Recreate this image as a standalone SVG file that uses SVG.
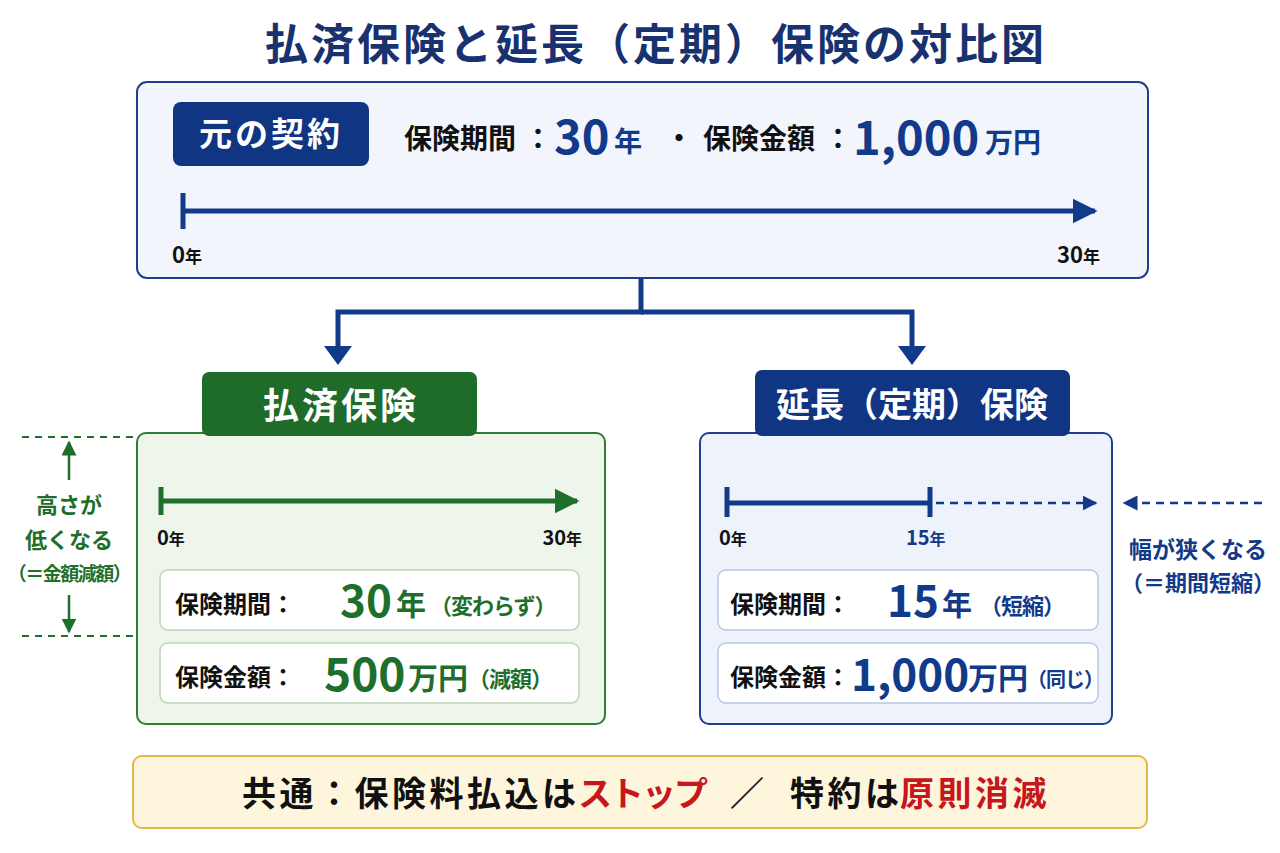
<svg xmlns="http://www.w3.org/2000/svg" width="1280" height="853" viewBox="0 0 1280 853">
<defs>
<style>
text{font-family:"Noto Sans CJK JP","Noto Sans",sans-serif;font-weight:700}
.blk{fill:#111}
.nv{fill:#123a8a}
.gr{fill:#1e6f2c}
.red{fill:#c8161d}
.wh{fill:#fff}
.navyline{stroke:#123a8a;stroke-width:5;fill:none}
.greenline{stroke:#1e6f2c;stroke-width:5;fill:none}
</style>
<marker id="ahN" viewBox="0 0 10 10" refX="9" refY="5" markerWidth="5" markerHeight="5.5" orient="auto" markerUnits="strokeWidth"><path d="M0,0L10,5L0,10Z" fill="#123a8a"/></marker>
<marker id="ahG" viewBox="0 0 10 10" refX="9" refY="5" markerWidth="5" markerHeight="5.5" orient="auto" markerUnits="strokeWidth"><path d="M0,0L10,5L0,10Z" fill="#1e6f2c"/></marker>
<marker id="ahNs" viewBox="0 0 10 10" refX="9" refY="5" markerWidth="6" markerHeight="6" orient="auto" markerUnits="strokeWidth"><path d="M0,0L10,5L0,10Z" fill="#123a8a"/></marker>
<marker id="ahGs" viewBox="0 0 10 10" refX="9" refY="5" markerWidth="6" markerHeight="6" orient="auto" markerUnits="strokeWidth"><path d="M0,0L10,5L0,10Z" fill="#1e6f2c"/></marker>
</defs>
<rect width="1280" height="853" fill="#ffffff"/>

<text x="656" y="60" text-anchor="middle" font-size="43" letter-spacing="3" fill="#17326f">払済保険と延長（定期）保険の対比図</text>

<g id="original">
<rect x="137" y="82" width="1011" height="196" rx="10" fill="#f2f5fc" stroke="#1e3f8f" stroke-width="2"/>
<rect x="173" y="102" width="196" height="64" rx="8" fill="#0f3583"/>
<text x="271" y="146" text-anchor="middle" font-size="33" letter-spacing="3" class="wh">元の契約</text>
<text x="404" y="149" font-size="28" class="blk">保険期間</text>
<text x="524" y="149" font-size="28" class="blk">：</text>
<text x="554" y="154" font-size="47" class="nv">30</text>
<text x="614" y="152" font-size="28" class="nv">年</text>
<text x="665" y="149" font-size="28" class="blk">・</text>
<text x="703" y="149" font-size="28" class="blk">保険金額</text>
<text x="824" y="149" font-size="28" class="blk">：</text>
<text x="853" y="155" font-size="47" class="nv">1,000</text>
<text x="985" y="153" font-size="28" class="nv">万円</text>
<line x1="183" y1="193" x2="183" y2="229" class="navyline"/>
<line x1="183" y1="211" x2="1095" y2="211" class="navyline" marker-end="url(#ahN)"/>
<text x="172" y="263" font-size="22" class="blk">0<tspan font-size="17">年</tspan></text>
<text x="1100" y="263" text-anchor="end" font-size="22" class="blk">30<tspan font-size="17">年</tspan></text>
</g>

<g id="connectors">
<path d="M641,279 V312 H338 V350" class="navyline"/>
<path d="M641,312 H912 V350" class="navyline"/>
<path d="M324,346 L352,346 L338,365 Z" fill="#123a8a"/>
<path d="M898,346 L926,346 L912,365 Z" fill="#123a8a"/>
</g>

<g id="haraizumi">
<rect x="137" y="433" width="468" height="291" rx="9" fill="#eef5eb" stroke="#2e7d32" stroke-width="2"/>
<rect x="202" y="372" width="275" height="64" rx="7" fill="#1f6b2a"/>
<text x="341" y="419" text-anchor="middle" font-size="36" letter-spacing="3" class="wh">払済保険</text>
<line x1="161" y1="487" x2="161" y2="515" class="greenline"/>
<line x1="161" y1="501" x2="577" y2="501" class="greenline" marker-end="url(#ahG)"/>
<text x="157" y="545" font-size="20" class="blk">0<tspan font-size="16">年</tspan></text>
<text x="582" y="545" text-anchor="end" font-size="20" class="blk">30<tspan font-size="16">年</tspan></text>
<rect x="160" y="570" width="419" height="60" rx="8" fill="#fff" stroke="#bcd5b8" stroke-width="1.5"/>
<rect x="160" y="643" width="419" height="60" rx="8" fill="#fff" stroke="#bcd5b8" stroke-width="1.5"/>
<text x="175" y="613" font-size="24" class="blk">保険期間：</text>
<text x="340" y="617" font-size="44" class="gr">30</text>
<text x="396" y="615" font-size="30" class="gr">年</text>
<text x="430" y="614" font-size="22" letter-spacing="-1" class="gr">（変わらず）</text>
<text x="175" y="686" font-size="24" class="blk">保険金額：</text>
<text x="324" y="691" font-size="46" class="gr">500</text>
<text x="408" y="689" font-size="30" class="gr">万円</text>
<text x="468" y="687" font-size="22" letter-spacing="-1" class="gr">（減額）</text>
</g>

<g id="height-note">
<line x1="22" y1="437" x2="134" y2="437" stroke="#1e6f2c" stroke-width="2" stroke-dasharray="7,6"/>
<line x1="22" y1="636" x2="134" y2="636" stroke="#1e6f2c" stroke-width="2" stroke-dasharray="7,6"/>
<line x1="69" y1="480" x2="69" y2="442" stroke="#1e6f2c" stroke-width="2.5" marker-end="url(#ahGs)"/>
<line x1="69" y1="595" x2="69" y2="632" stroke="#1e6f2c" stroke-width="2.5" marker-end="url(#ahGs)"/>
<text x="69" y="513" text-anchor="middle" font-size="22" class="gr">高さが</text>
<text x="69" y="548" text-anchor="middle" font-size="22" class="gr">低くなる</text>
<text x="69" y="581" text-anchor="middle" font-size="19" letter-spacing="-1.5" class="gr">（＝金額減額）</text>
</g>

<g id="encho">
<rect x="700" y="433" width="412" height="291" rx="9" fill="#eef2fb" stroke="#1e3f8f" stroke-width="2"/>
<rect x="755" y="370" width="315" height="66" rx="7" fill="#0f3583"/>
<text x="912" y="417" text-anchor="middle" font-size="34" class="wh">延長（定期）保険</text>
<line x1="727" y1="487" x2="727" y2="517" class="navyline" stroke-width="4"/>
<line x1="930" y1="487" x2="930" y2="517" class="navyline" stroke-width="4"/>
<line x1="727" y1="503" x2="930" y2="503" class="navyline" stroke-width="4"/>
<line x1="936" y1="503" x2="1096" y2="503" stroke="#123a8a" stroke-width="2.5" stroke-dasharray="8,6" marker-end="url(#ahNs)"/>
<text x="719" y="545" font-size="20" class="blk">0<tspan font-size="16">年</tspan></text>
<text x="906" y="545" font-size="20" class="nv">15<tspan font-size="16">年</tspan></text>
<rect x="718" y="570" width="380" height="60" rx="8" fill="#fff" stroke="#b8c8e6" stroke-width="1.5"/>
<rect x="718" y="643" width="380" height="60" rx="8" fill="#fff" stroke="#b8c8e6" stroke-width="1.5"/>
<text x="730" y="613" font-size="24" class="blk">保険期間：</text>
<text x="887" y="617" font-size="44" class="nv">15</text>
<text x="942" y="615" font-size="30" class="nv">年</text>
<text x="980" y="614" font-size="22" letter-spacing="-1" class="nv">（短縮）</text>
<text x="730" y="686" font-size="24" class="blk">保険金額</text>
<text x="826" y="686" font-size="24" class="blk">：</text>
<text x="851" y="691" font-size="44" class="nv">1,000</text>
<text x="968" y="689" font-size="30" class="nv">万円</text>
<text x="1027" y="687" font-size="20" letter-spacing="-1" class="nv">（同じ）</text>
</g>

<g id="width-note">
<line x1="1262" y1="503" x2="1124" y2="503" stroke="#123a8a" stroke-width="2.5" stroke-dasharray="8,6" marker-end="url(#ahNs)"/>
<text x="1198" y="558" text-anchor="middle" font-size="23" class="nv">幅が狭くなる</text>
<text x="1198" y="591" text-anchor="middle" font-size="22" class="nv">（＝期間短縮）</text>
</g>

<g id="common">
<rect x="133" y="756" width="1014" height="72" rx="9" fill="#fdf5dc" stroke="#e2b84c" stroke-width="2"/>
<text y="806" font-size="34" letter-spacing="3.5"><tspan x="242" class="blk">共通：保険料払込は</tspan><tspan x="578" letter-spacing="-2" class="red">ストップ</tspan><tspan x="730" class="blk">／</tspan><tspan x="790" class="blk">特約は</tspan><tspan x="900" class="red">原則消滅</tspan></text>
</g>
</svg>
